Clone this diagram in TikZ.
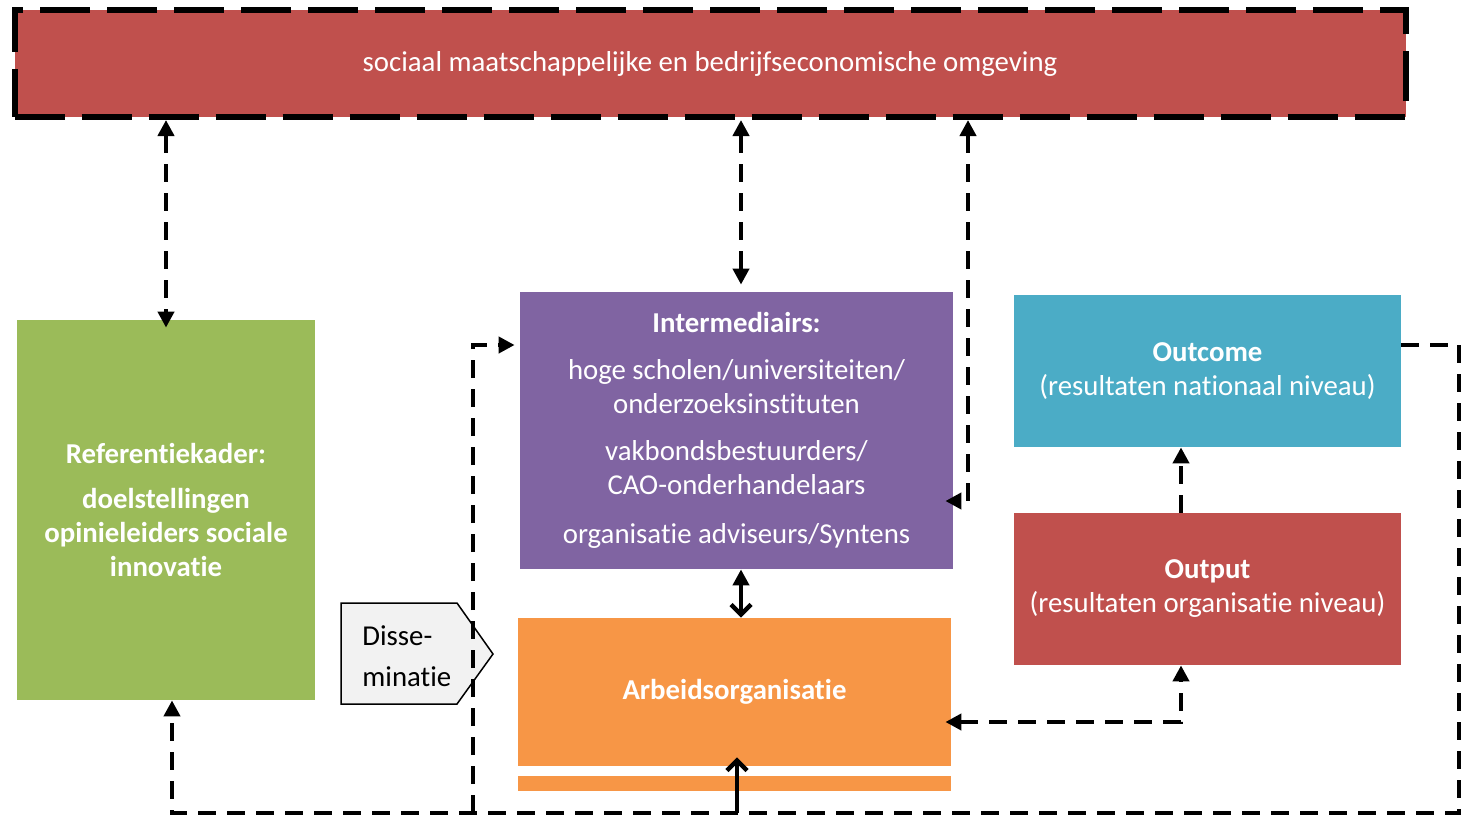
\documentclass[tikz,border=0pt]{standalone}
\usepackage{fontspec}
\setmainfont{Carlito}[Ligatures=NoCommon]
\usetikzlibrary{arrows.meta,calc}

\definecolor{envred}{HTML}{C0504D}
\definecolor{refgreen}{HTML}{9BBB59}
\definecolor{interpurple}{HTML}{8064A2}
\definecolor{outcomeblue}{HTML}{4BACC6}
\definecolor{arbeidorange}{HTML}{F79646}
\definecolor{dissemgray}{HTML}{F2F2F2}

\begin{document}
\begin{tikzpicture}[x=0.5pt,y=-0.5pt,
  box/.style={rectangle,inner sep=0pt,text=white,align=center,font=\fontsize{14.4}{17}\selectfont},
  dasharrow/.style={line width=2.2pt,dash pattern=on 9pt off 5.5pt,>={Triangle[length=8pt,width=8pt]}},
  solidarrow/.style={line width=2.2pt}]
  \useasboundingbox (0,0) rectangle (1461,819);

  % boxes
  \node[box,fill=envred,draw=black,line width=3pt,dash pattern=on 25pt off 8.5pt,
    minimum width=695.5pt,minimum height=53.5pt] (env) at (710,63.5)
    {sociaal maatschappelijke en bedrijfseconomische omgeving};
  \node[box,fill=refgreen,minimum width=149pt,minimum height=190pt] (ref) at (166,510)
    {\textbf{Referentiekader:}\\[5.5pt]\textbf{doelstellingen}\\\textbf{opinieleiders sociale}\\\textbf{innovatie}};
  \node[box,fill=interpurple,minimum width=216.5pt,minimum height=138.5pt] (inter) at (736.5,430.5)
    {\textbf{Intermediairs:}\\[6.5pt]hoge scholen/universiteiten/\\onderzoeksinstituten\\[6.5pt]
     vakbondsbestuurders/\\CAO-onderhandelaars\\[7.5pt]organisatie adviseurs/Syntens};
  \node[box,fill=outcomeblue,minimum width=193.5pt,minimum height=76pt] (outcome) at (1207.5,371)
    {\textbf{Outcome}\\(resultaten nationaal niveau)};
  \node[box,fill=envred,minimum width=193.5pt,minimum height=76pt] (output) at (1207.5,589)
    {\textbf{Output}\\(resultaten organisatie niveau)};
  \node[box,fill=arbeidorange,minimum width=216.5pt,minimum height=74pt] (arbeid) at (734.5,692)
    {\textbf{Arbeidsorganisatie}};
  \node[box,fill=arbeidorange,minimum width=216.5pt,minimum height=7.5pt] (arbeidstrip) at (734.5,783.5) {};

  % disseminatie
  \draw[fill=dissemgray,line width=0.75pt] (341,603) -- (457,603) -- (493,654) -- (457,704) -- (341,704) -- cycle;
  \node[anchor=west,align=left,inner sep=0pt,font=\fontsize{14.4}{17}\selectfont] (dissem) at (362,656.5)
    {Disse-\\[3.5pt]minatie};

  % coordinates
  \coordinate (feedR) at (968,501);
  \coordinate (ax) at (741,0);
  \coordinate (ox) at (1181,0);
  \coordinate (orcorner) at (1181,722);
  \coordinate (loopTR) at (1459,345);
  \coordinate (loopBR) at (1459,813);
  \coordinate (loopBL) at (172,813);
  \coordinate (dissemB) at (473,813);
  \coordinate (dissemT) at (473,345);
  \coordinate (abot) at (737,813);

  % connectors
  \draw[dasharrow,<->] (env.south -| ref.north) -- ($(ref.north)+(0,8)$);
  \draw[dasharrow,<->] (env.south -| ax) -- ($(inter.north -| ax)+(0,-7)$);
  \draw[dasharrow,<->] (env.south -| feedR) -- (feedR) -- ($(inter.east |- feedR)+(-8,0)$);
  \draw[solidarrow,{Triangle[length=8pt,width=8pt]}-{Straight Barb[length=5pt,width=10pt]}]
    (inter.south -| ax) -- (arbeid.north -| ax);
  \draw[dasharrow,->] (output.north -| ox) -- (outcome.south -| ox);
  \draw[dasharrow,<->] ($(arbeid.east |- orcorner)+(-6,0)$) -- (orcorner) -- (output.south -| ox);
  \draw[dasharrow,->] (outcome.east |- loopTR) -- (loopTR) -- (loopBR) -- (loopBL) -- (ref.south -| loopBL);
  \draw[dasharrow,->] (dissemB) -- (dissemT) -- ($(inter.west |- dissemT)+(-5,0)$);
  \draw[solidarrow,-{Straight Barb[length=5pt,width=10pt]}] (abot) -- ($(arbeid.south -| abot)+(0,-9)$);
\end{tikzpicture}
\end{document}
